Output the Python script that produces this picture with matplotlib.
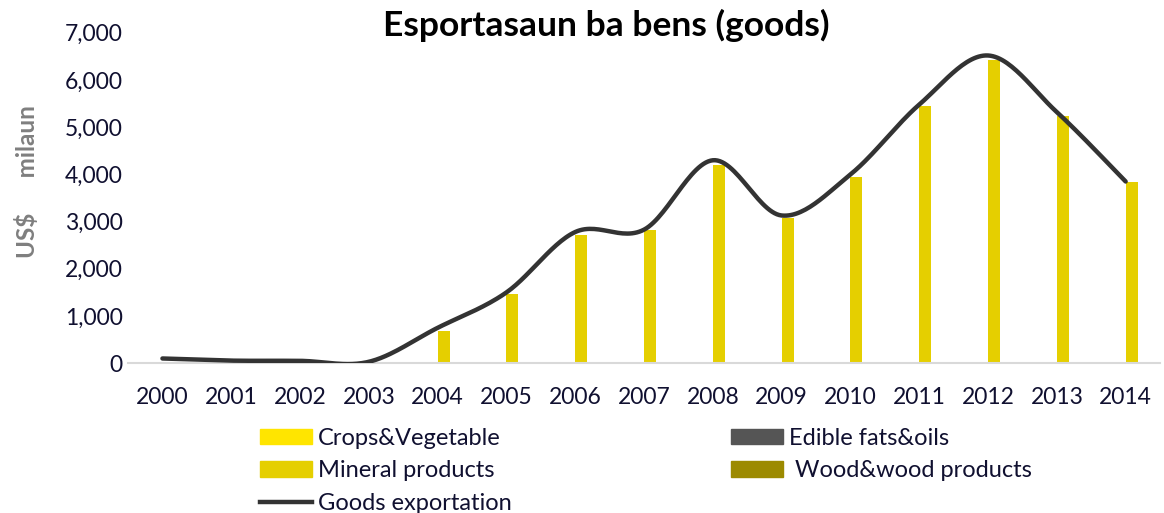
import matplotlib
matplotlib.use("Agg")
import matplotlib.pyplot as plt
from matplotlib.ticker import FuncFormatter
from matplotlib.lines import Line2D
from matplotlib.patches import Patch
import numpy as np

years = ["2000", "2001", "2002", "2003", "2004", "2005", "2006", "2007",
         "2008", "2009", "2010", "2011", "2012", "2013", "2014"]
crops = [0, 0, 0, 5, 0, 0, 0, 0, 0, 0, 0, 0, 30, 0, 0]
edible = [0, 0, 0, 0, 0, 0, 0, 0, 0, 0, 0, 0, 0, 0, 0]
mineral = [0, 0, 0, 20, 680, 1470, 2720, 2820, 4200, 3070, 3940, 5450, 6430, 5230, 3840]
wood = [0, 0, 0, 0, 0, 0, 0, 0, 0, 0, 0, 0, 0, 0, 0]
goods = [100, 55, 50, 30, 750, 1500, 2780, 2830, 4300, 3130, 4000, 5480, 6520, 5320, 3850]

C_CROPS = "#FFE500"
C_EDIBLE = "#555555"
C_MINERAL = "#E5CF00"
C_WOOD = "#9C8A00"
C_LINE = "#333333"
TXT = "#101030"

plt.rcParams['font.family'] = ['Lato', 'DejaVu Sans']

fig = plt.figure(figsize=(11.64, 5.13), dpi=100)
ax = fig.add_axes([0.110, 0.292, 0.8866, 0.644])

x = np.arange(len(years))
w = 0.175
ax.bar(x - 1.5 * w, crops, w, color=C_CROPS, zorder=2)
ax.bar(x - 0.5 * w, edible, w, color=C_EDIBLE, zorder=2)
ax.bar(x + 0.5 * w, mineral, w, color=C_MINERAL, zorder=2)
ax.bar(x + 1.5 * w, wood, w, color=C_WOOD, zorder=2)

# smooth line (Bezier smoothing like Excel)
px = x.astype(float)
py = np.array(goods, dtype=float)
sx, sy = [], []
n = len(px)
for i in range(n - 1):
    p0 = np.array([px[max(i - 1, 0)], py[max(i - 1, 0)]])
    p1 = np.array([px[i], py[i]])
    p2 = np.array([px[i + 1], py[i + 1]])
    p3 = np.array([px[min(i + 2, n - 1)], py[min(i + 2, n - 1)]])
    c1 = p1 + (p2 - p0) / 6.0
    c2 = p2 - (p3 - p1) / 6.0
    t = np.linspace(0, 1, 30)[:, None]
    seg = ((1 - t) ** 3) * p1 + 3 * ((1 - t) ** 2) * t * c1 + 3 * (1 - t) * t ** 2 * c2 + t ** 3 * p2
    sx.extend(seg[:, 0]); sy.extend(seg[:, 1])
ax.plot(sx, sy, color=C_LINE, lw=3.2, solid_capstyle='round', zorder=3)

ax.set_xlim(-0.5, len(years) - 0.5)
ax.set_ylim(0, 7000)
ax.set_yticks(np.arange(0, 7001, 1000))
ax.yaxis.set_major_formatter(FuncFormatter(lambda v, p: f"{int(v):,}"))
ax.set_xticks(x)
ax.set_xticklabels(years)
ax.tick_params(axis='both', length=0, labelsize=16.5, colors=TXT)
ax.tick_params(axis='x', pad=17)
ax.tick_params(axis='y', pad=4)
for s in ['top', 'right', 'left']:
    ax.spines[s].set_visible(False)
ax.spines['bottom'].set_color('#d9d9d9')
ax.spines['bottom'].set_linewidth(1.5)

fig.text(0.521, 0.951, "Esportasaun ba bens (goods)", ha='center', va='center',
         fontsize=25.5, fontweight='bold', color='black')
fig.text(0.023, 0.646, "US$      milaun", rotation=90, ha='center', va='center',
         fontsize=17.5, fontweight='bold', color='#7f7f7f')

handles = [Patch(color=C_CROPS), Patch(color=C_MINERAL),
           Line2D([0], [0], color=C_LINE, lw=3.2),
           Patch(color=C_EDIBLE), Patch(color=C_WOOD)]
labels = ["Crops&Vegetable", "Mineral products", "Goods exportation",
          "Edible fats&oils", " Wood&wood products"]
leg = fig.legend(handles, labels, ncol=2, loc='upper left', bbox_to_anchor=(0.2234, 0.166),
                 frameon=False, fontsize=17, handlelength=2.2, handleheight=0.62,
                 handletextpad=0.25, columnspacing=9.3, labelspacing=0.48,
                 borderaxespad=0, borderpad=0)
for t in leg.get_texts():
    t.set_color(TXT)

fig.savefig("out.png", dpi=100)
